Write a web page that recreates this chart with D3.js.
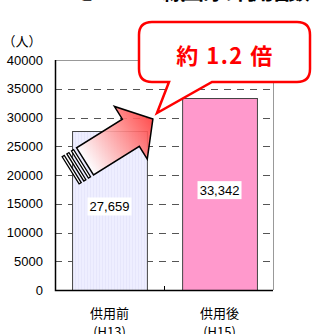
<!DOCTYPE html>
<html>
<head>
<meta charset="utf-8">
<script src="https://cdn.jsdelivr.net/npm/d3@7"></script>
<style>
  html, body { margin: 0; padding: 0; background: #fff; }
  svg { display: block; }
</style>
</head>
<body>
<div id="chart"></div>
<script>
// data
const categories = ['供用前', '供用後'];
const subLabels = ['(H13)', '(H15)'];
const values = [27659, 33342];
const yTicks = [0, 5000, 10000, 15000, 20000, 25000, 30000, 35000, 40000];
const ratioText = '約 1.2 倍';
const unitText = '（人）';
const titleText = 'モノレール線区間の利用者数';

const width = 312;
const height = 334;
const margin = {top: 60, right: 39, bottom: 44, left: 55};
const numFont = '"Liberation Sans", Arial, sans-serif';
const jpFont = '"Noto Sans CJK JP", sans-serif';

const svg = d3.select('#chart')
    .append('svg')
    .attr('width', width)
    .attr('height', height);

const x = d3.scaleBand()
    .domain(categories)
    .range([margin.left, width - margin.right + 1])
    .paddingInner(0.32)
    .paddingOuter(0.155);

const y = d3.scaleLinear()
    .domain([0, 40000])
    .range([height - margin.bottom, margin.top]);

const x0 = margin.left;
const x1 = width - margin.right;
const y0 = y(0);

// title (cut off at the top)
svg.append('text')
    .attr('x', 72)
    .attr('y', -1)
    .attr('font-family', jpFont)
    .attr('font-weight', 'bold')
    .attr('font-size', 22)
    .attr('textLength', 238)
    .attr('fill', '#000')
    .text(titleText);

// frame
svg.append('path')
    .attr('d', `M${x0},${y(40000) + 0.5}H${x1 + 0.5}V${y0}`)
    .attr('fill', 'none')
    .attr('stroke', '#999')
    .attr('stroke-width', 1);

// dashed grid
svg.append('g')
    .selectAll('line')
    .data(yTicks.filter((d) => d > 0 && d < 40000))
    .join('line')
    .attr('x1', x0)
    .attr('x2', x1)
    .attr('y1', (d) => Math.round(y(d)) + 0.5)
    .attr('y2', (d) => Math.round(y(d)) + 0.5)
    .attr('stroke', '#555')
    .attr('stroke-width', 1)
    .attr('stroke-dasharray', '7,6');

// bars
const pattern = svg.append('defs').append('pattern')
    .attr('id', 'stripe')
    .attr('patternUnits', 'userSpaceOnUse')
    .attr('width', 3)
    .attr('height', 3);
pattern.append('rect').attr('width', 3).attr('height', 3).attr('fill', '#eeeeff');
pattern.append('rect').attr('width', 1).attr('height', 3).attr('fill', '#e6e6fb');

const barFills = ['url(#stripe)', '#ff99cc'];

svg.append('g')
    .selectAll('rect')
    .data(values)
    .join('rect')
    .attr('x', (d, i) => x(categories[i]) + 0.5)
    .attr('y', (d) => Math.round(y(d)) + 0.5)
    .attr('width', x.bandwidth())
    .attr('height', (d) => y0 - Math.round(y(d)))
    .attr('fill', (d, i) => barFills[i])
    .attr('stroke', '#444')
    .attr('stroke-width', 1);

// value labels with white background
const labels = svg.append('g')
    .selectAll('g')
    .data(values)
    .join('g')
    .attr('transform', (d, i) =>
      `translate(${x(categories[i]) + x.bandwidth() / 2},${(y(d) + y0) / 2 - 4})`);
labels.append('rect')
    .attr('x', -22)
    .attr('y', -9)
    .attr('width', 44)
    .attr('height', 18)
    .attr('fill', '#fff');
labels.append('text')
    .attr('text-anchor', 'middle')
    .attr('dy', '0.36em')
    .attr('font-family', numFont)
    .attr('font-size', 13)
    .attr('fill', '#000')
    .text((d) => d3.format(',')(d));

// axes
const yAxis = svg.append('g')
    .attr('transform', `translate(${x0},0)`)
    .call(d3.axisLeft(y).tickValues(yTicks).tickFormat(d3.format('d'))
        .tickSize(0).tickPadding(12));
yAxis.select('.domain').remove();
yAxis.selectAll('text')
    .attr('font-family', numFont)
    .attr('font-size', 13)
    .attr('fill', '#000');

svg.append('path')
    .attr('d', `M${x0 + 0.5},${y(40000)}V${y0 + 0.5}H${x1}`)
    .attr('fill', 'none')
    .attr('stroke', '#000')
    .attr('stroke-width', 1.5);

// tick between categories
const midX = (x(categories[0]) + x.bandwidth() + x(categories[1])) / 2;
svg.append('line')
    .attr('x1', midX).attr('x2', midX)
    .attr('y1', y0).attr('y2', y0 - 4)
    .attr('stroke', '#000');

// category labels
svg.append('g')
    .selectAll('text')
    .data(categories)
    .join('text')
    .attr('x', (d) => x(d) + x.bandwidth() / 2)
    .attr('y', y0 + 28)
    .attr('text-anchor', 'middle')
    .attr('font-family', jpFont)
    .attr('font-size', 13)
    .attr('fill', '#000')
    .text((d) => d);
svg.append('g')
    .selectAll('text')
    .data(subLabels)
    .join('text')
    .attr('x', (d, i) => x(categories[i]) + x.bandwidth() / 2)
    .attr('y', y0 + 47)
    .attr('text-anchor', 'middle')
    .attr('font-family', jpFont)
    .attr('font-size', 13)
    .attr('fill', '#000')
    .text((d) => d);

svg.append('text')
    .attr('x', 22)
    .attr('y', 46)
    .attr('text-anchor', 'middle')
    .attr('font-family', jpFont)
    .attr('font-size', 13)
    .attr('fill', '#000')
    .text(unitText);

// arrow
const grad = svg.select('defs').append('linearGradient')
    .attr('id', 'arrowGrad')
    .attr('gradientUnits', 'userSpaceOnUse')
    .attr('x1', -80).attr('y1', 0)
    .attr('x2', 0).attr('y2', 0);
grad.append('stop').attr('offset', 0).attr('stop-color', '#ffffff');
grad.append('stop').attr('offset', 1).attr('stop-color', '#ff3c3c');

const tipX = x(categories[0]) + x.bandwidth() + 6;
const tipY = y(values[0]) - 12;
const arrow = svg.append('g')
    .attr('transform', `translate(${tipX},${tipY}) rotate(-32)`);
arrow.append('path')
    .attr('d', 'M0,0 L-26,-31 L-26,-16 L-80,-16 L-80,16 L-26,16 L-26,31 Z')
    .attr('fill', 'url(#arrowGrad)')
    .attr('fill-opacity', 0.9)
    .attr('stroke', '#000')
    .attr('stroke-width', 1.5)
    .attr('stroke-linejoin', 'miter');
arrow.append('g')
    .selectAll('rect')
    .data([0, 1, 2])
    .join('rect')
    .attr('x', (d) => -86 - d * 5.5)
    .attr('y', -16)
    .attr('width', 2.5)
    .attr('height', 32)
    .attr('fill', '#fff')
    .attr('stroke', '#000')
    .attr('stroke-width', 1.3);

// callout
const cx0 = 139, cy0 = 22, cx1 = 310, cy1 = 82, r = 13;
const tailL = 169, tailR = 212;
const tipPx = 157, tipPy = 113;
svg.append('path')
    .attr('d', `M${cx0 + r},${cy0} H${cx1 - r} Q${cx1},${cy0} ${cx1},${cy0 + r}
      V${cy1 - r} Q${cx1},${cy1} ${cx1 - r},${cy1} H${tailR} L${tipPx},${tipPy}
      L${tailL},${cy1} H${cx0 + r} Q${cx0},${cy1} ${cx0},${cy1 - r}
      V${cy0 + r} Q${cx0},${cy0} ${cx0 + r},${cy0} Z`)
    .attr('fill', '#fff')
    .attr('stroke', '#ff0000')
    .attr('stroke-width', 2.5)
    .attr('stroke-linejoin', 'miter');

svg.append('text')
    .attr('x', 225)
    .attr('y', 64)
    .attr('text-anchor', 'middle')
    .attr('font-family', jpFont)
    .attr('font-weight', 'bold')
    .attr('font-size', 22)
    .attr('letter-spacing', 1.5)
    .attr('fill', '#ff0000')
    .text(ratioText);
</script>
</body>
</html>
